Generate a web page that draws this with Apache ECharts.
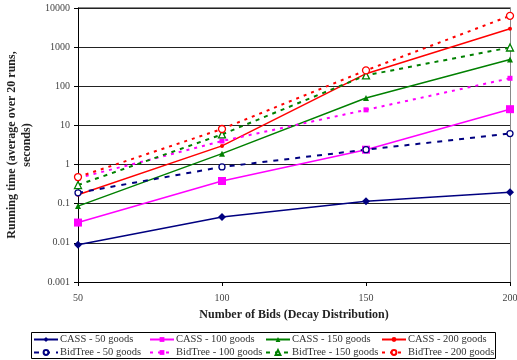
<!DOCTYPE html>
<html><head><meta charset="utf-8">
<script src="https://cdn.jsdelivr.net/npm/echarts@6/dist/echarts.min.js"></script>
<style>html,body{margin:0;padding:0;background:#fff}#c{width:517px;height:360px}</style>
</head><body><div id="c"></div>
<script>
var bids = [50, 100, 150, 200];
var yTicks = [0.001, 0.01, 0.1, 1, 10, 100, 1000, 10000];
var cass50 = [0.009, 0.046, 0.115, 0.195];
var cass100 = [0.033, 0.38, 2.4, 26];
var cass150 = [0.087, 1.9, 50, 485];
var cass200 = [0.17, 3.0, 210, 2950];
var bid50 = [0.19, 0.87, 2.4, 6.2];
var bid100 = [0.45, 4.0, 25, 160];
var bid150 = [0.3, 5.9, 190, 980];
var bid200 = [0.48, 8.1, 255, 6300];

var FONT = '"Liberation Serif", "DejaVu Serif", serif';
function pts(v){ return bids.map(function(b,i){ return [b, v[i]]; }); }
function mk(name, vals, color, symbol, size, dashed, hollow, width){
  return {
    name: name, type: 'line', data: pts(vals),
    symbol: symbol, symbolSize: size,
    showAllSymbol: true,
    itemStyle: hollow ? {color: '#fff', borderColor: color, borderWidth: 1.3} : {color: color},
    lineStyle: {color: color, width: width, type: dashed ? dashed : 'solid'},
    emphasis: {disabled: true}, animation: false
  };
}
var series = [
  mk('CASS - 50 goods', cass50, '#000080', 'diamond', 8, null, false, 1.5),
  mk('CASS - 100 goods', cass100, '#FF00FF', 'rect', 8, null, false, 1.5),
  mk('CASS - 150 goods', cass150, '#008000', 'triangle', 6, null, false, 1.5),
  mk('CASS - 200 goods', cass200, '#FF0000', 'circle', 4, null, false, 1.5),
  mk('BidTree - 50 goods', bid50, '#000080', 'circle', 6, [5,6], true, 2),
  mk('BidTree - 100 goods', bid100, '#FF00FF', 'rect', 5, [3,5], false, 2),
  mk('BidTree - 150 goods', bid150, '#008000', 'triangle', 7, [4,5], true, 2),
  mk('BidTree - 200 goods', bid200, '#FF0000', 'circle', 7, [3,5], true, 2)
];
var names = series.map(function(s){ return s.name; });
var colX = [33, 149, 265, 381];
var rowY = [334, 347];
var legends = names.map(function(n, i){
  return {
    orient: 'horizontal', left: colX[i % 4], top: rowY[Math.floor(i / 4)],
    itemWidth: 24, itemHeight: 6, data: [n], padding: 0,
    textStyle: {fontFamily: FONT, fontSize: 10.5, color: '#333', padding: [0,0,0,-3]},
    selectedMode: false
  };
});
var chart = echarts.init(document.getElementById('c'));
chart.setOption({
  animation: false,
  backgroundColor: '#fff',
  grid: {left: 78, right: 7, top: 8, bottom: 78, containLabel: false, outerBoundsMode: 'none'},
  legend: legends,
  graphic: [
    {type: 'rect', shape: {x: 31.5, y: 332.5, width: 464, height: 26}, style: {fill: 'none', stroke: '#000', lineWidth: 1}},
    {type: 'polyline', shape: {points: [[78, 7.5], [510.5, 7.5], [510.5, 282]]}, style: {fill: 'none', stroke: '#888', lineWidth: 1}}
  ],
  xAxis: {
    type: 'value', min: 50, max: 200, interval: 50,
    name: 'Number of Bids (Decay Distribution)', nameLocation: 'middle', nameGap: 27,
    nameTextStyle: {fontFamily: FONT, fontWeight: 'bold', fontSize: 12, color: '#222'},
    axisLine: {lineStyle: {color: '#000', width: 1}},
    axisTick: {show: true, length: 4, lineStyle: {color: '#000'}},
    axisLabel: {fontFamily: FONT, fontSize: 10, color: '#444', margin: 11},
    splitLine: {show: false}
  },
  yAxis: {
    type: 'log', logBase: 10, min: 0.001, max: 10000,
    name: 'Running time (average over 20 runs,\nseconds)', nameLocation: 'middle', nameGap: 38,
    nameTextStyle: {fontFamily: FONT, fontWeight: 'bold', fontSize: 12, color: '#222', lineHeight: 15},
    axisLine: {show: true, lineStyle: {color: '#000', width: 1}},
    axisTick: {show: true, length: 4, lineStyle: {color: '#000'}},
    axisLabel: {fontFamily: FONT, fontSize: 10, color: '#444', margin: 8,
      formatter: function(v){ var n = Math.round(Math.log10(v)); return yTicks[n+3] !== undefined ? String(yTicks[n+3]) : String(v); }},
    splitLine: {show: true, lineStyle: {color: '#222', width: 1}}
  },
  series: series
});
</script></body></html>
